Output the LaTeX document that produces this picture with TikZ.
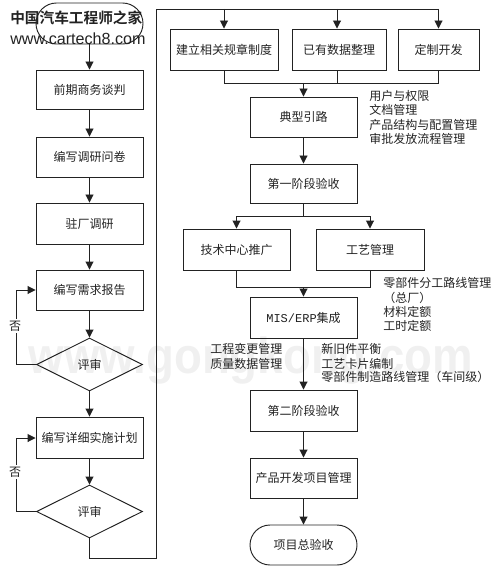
\documentclass[tikz,border=0pt]{standalone}
\usepackage{fontspec}
\setmainfont{Noto Sans CJK SC}
\newfontfamily\latinmono{Liberation Mono}
\newfontfamily\latinsans{Liberation Sans}
\newfontfamily\logocjk{Noto Sans CJK SC Bold}
\usetikzlibrary{arrows.meta,shapes.geometric,shapes.misc}
\definecolor{ink}{HTML}{222222}
\tikzset{
  flowbox/.style={draw=ink,line width=0.7pt,text=ink,inner sep=0pt,font=\fontsize{9}{11}\selectfont},
  wh/.style 2 args={minimum width=#1*0.75pt,minimum height=#2*0.75pt},
  dia/.style={flowbox,diamond,aspect=2,minimum width=79.5pt,minimum height=39.75pt},
  term/.style={flowbox,rounded rectangle,minimum width=80.25pt,minimum height=30pt},
  link/.style={draw=ink,line width=0.7pt},
  arr/.style={link,-{Triangle[length=6pt,width=6pt]}},
  note/.style={anchor=west,inner sep=0pt,text=ink,font=\fontsize{9}{11}\selectfont},
  logo/.style={anchor=west,inner sep=0pt,text=ink},
  no/.style={inner sep=1pt,fill=white,text=ink,font=\fontsize{9}{11}\selectfont},
  water/.style={inner sep=0pt,text=black!6,xscale=0.9,transform shape,font=\latinsans\bfseries\fontsize{38}{38}\selectfont},
}
\begin{document}
\begin{tikzpicture}[x=0.75pt,y=-0.75pt]
\useasboundingbox (0,0) rectangle (500,577);
% watermark
\node[water] (wm) at (251,361) {www.gongkong.com};
% left column
\node[term,minimum width=80.25pt,minimum height=30.75pt] (start) at (89.5,23.5) {};
\node[logo,font=\logocjk\fontsize{11}{12}\selectfont] (logo1) at (10,18) {中国汽车工程师之家};
\node[logo,font=\latinsans\fontsize{12.1}{13}\selectfont] (logo2) at (10,39) {www.cartech8.com};
\node[flowbox,wh={107}{39}] (l1) at (89.5,89.5) {前期商务谈判};
\node[flowbox,wh={107}{40}] (l2) at (89.5,157) {编写调研问卷};
\node[flowbox,wh={107}{41}] (l3) at (89.5,223.5) {驻厂调研};
\node[flowbox,wh={107}{40}] (l4) at (89.5,290) {编写需求报告};
\node[dia] (d1) at (89.5,364.5) {评审};
\node[flowbox,wh={107}{41}] (l5) at (89.5,437.5) {编写详细实施计划};
\node[dia] (d2) at (89.5,511.5) {评审};
% top row
\node[flowbox,wh={108}{41}] (r1) at (224,49.5) {建立相关规章制度};
\node[flowbox,wh={94}{41}] (r2) at (339,49.5) {已有数据整理};
\node[flowbox,wh={81}{41}] (r3) at (438.5,49.5) {定制开发};
\node[flowbox,wh={107}{40}] (r4) at (303.5,117) {典型引路};
\node[flowbox,wh={107}{39}] (r5) at (303.5,183.5) {第一阶段验收};
\node[flowbox,wh={107}{41}] (t1) at (236.5,249.5) {技术中心推广};
\node[flowbox,wh={108}{41}] (t2) at (370,249.5) {工艺管理};
\node[flowbox,wh={107}{41}] (r6) at (303.5,317.5) {{\latinmono MIS/ERP}集成};
\node[flowbox,wh={107}{41}] (r7) at (303.5,410.5) {第二阶段验收};
\node[flowbox,wh={107}{40}] (r8) at (303.5,478) {产品开发项目管理};
\node[term] (r9) at (303.5,545) {项目总验收};
% notes
\node[note] (n1) at (369,96) {用户与权限};
\node[note] (n2) at (369,110) {文档管理};
\node[note] (n3) at (369,125) {产品结构与配置管理};
\node[note] (n4) at (369,139) {审批发放流程管理};
\node[note] (n5) at (383,283) {零部件分工路线管理};
\node[note] (n6) at (383,298) {（总厂）};
\node[note] (n7) at (383,312) {材料定额};
\node[note] (n8) at (383,326) {工时定额};
\node[note] (n9) at (210,349) {工程变更管理};
\node[note] (n10) at (210,364) {质量数据管理};
\node[note] (n11) at (321,349) {新旧件平衡};
\node[note] (n12) at (321,364) {工艺卡片编制};
\node[note] (n13) at (321,377) {零部件制造路线管理（车间级）};
% named routing points
\coordinate (c1) at (156,558);
\coordinate (c2) at (156,9);
\coordinate (c3) at (438.5,9);
\coordinate (a1) at (224,9);
\coordinate (a2) at (337,9);
\coordinate (b1) at (224,83);
\coordinate (b2) at (337,83);
\coordinate (b3) at (438.5,83);
\coordinate (b4) at (303.5,83);
\coordinate (s1) at (303.5,216);
\coordinate (s2) at (236.5,216);
\coordinate (s3) at (370,216);
\coordinate (m1) at (236.5,287);
\coordinate (m2) at (370,287);
\coordinate (m3) at (303.5,287);
\coordinate (f1) at (16,364.5);
\coordinate (f2) at (16,290);
\coordinate (f3) at (16,511.5);
\coordinate (f4) at (16,438);
% left connectors
\draw[arr] (start) -- (l1);
\draw[arr] (l1) -- (l2);
\draw[arr] (l2) -- (l3);
\draw[arr] (l3) -- (l4);
\draw[arr] (l4) -- (d1);
\draw[arr] (d1) -- (l5);
\draw[arr] (l5) -- (d2);
\draw[arr] (d1.west) -- (f1) -- (f2) -- (l4.west);
\draw[arr] (d2.west) -- (f3) -- (f4) -- (f4 -| l5.west);
\node[no] (no1) at (15,326) {否};
\node[no] (no2) at (15,472) {否};
% long link
\draw[link] (d2.south) |- (c1) -- (c2) -- (c3);
\draw[arr] (a1) -- (r1);
\draw[arr] (a2) -- (a2 |- r2.north);
\draw[arr] (c3) -- (r3);
% merge to r4
\draw[link] (r1) -- (b1) -- (b3) -- (r3);
\draw[link] (b2 |- r2.south) -- (b2);
\draw[arr] (b4) -- (r4);
\draw[arr] (r4) -- (r5);
% split
\draw[link] (r5) -- (s1);
\draw[link] (s2) -- (s3);
\draw[arr] (s2) -- (t1);
\draw[arr] (s3) -- (t2);
% merge
\draw[link] (t1) -- (m1) -- (m2) -- (t2);
\draw[arr] (m3) -- (r6);
\draw[arr] (r6) -- (r7);
\draw[arr] (r7) -- (r8);
\draw[arr] (r8) -- (r9);
\end{tikzpicture}
\end{document}
